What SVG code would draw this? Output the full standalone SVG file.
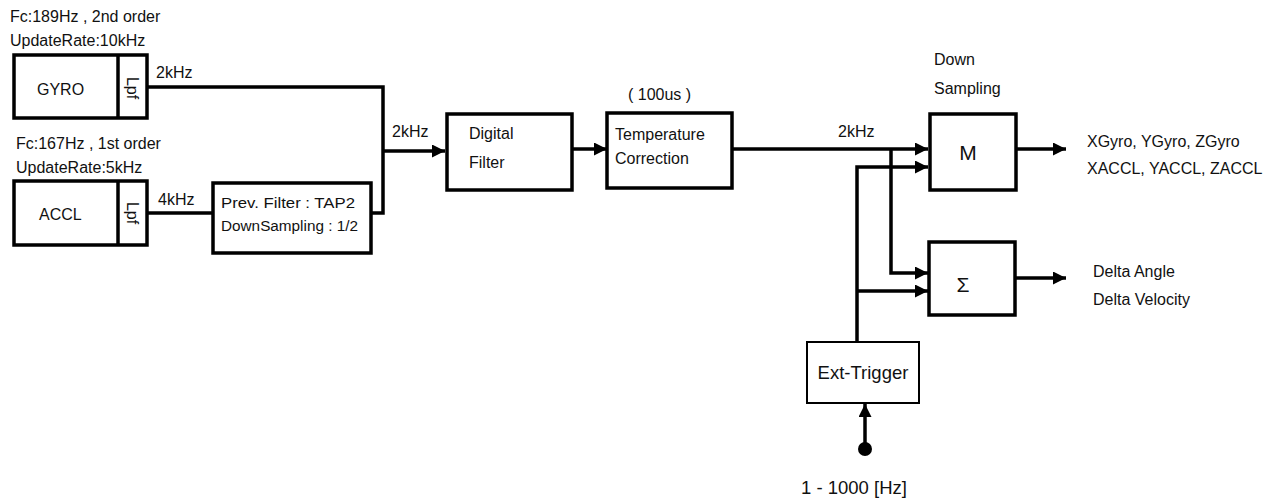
<svg xmlns="http://www.w3.org/2000/svg" width="1286" height="503" viewBox="0 0 1286 503">
  <style>
    .box { fill: #ffffff; stroke: #000000; stroke-width: 3.5; }
    .thin { fill: #ffffff; stroke: #000000; stroke-width: 2; }
    .wire { fill: none; stroke: #000000; stroke-width: 3.5; stroke-linejoin: miter; }
    .lbl { font-family: "Liberation Sans", Arial, sans-serif; font-size: 16px; fill: #111111; }
    .small { font-family: "Liberation Sans", Arial, sans-serif; font-size: 14px; fill: #111111; }
    .big { font-family: "Liberation Sans", Arial, sans-serif; font-size: 21px; fill: #111111; }
    .trig { font-family: "Liberation Sans", Arial, sans-serif; font-size: 18.5px; fill: #111111; }
  </style>
  <defs>
    <marker id="arrow" markerUnits="userSpaceOnUse" markerWidth="14" markerHeight="14" refX="13" refY="6.5" orient="auto">
      <path d="M0,0 L13,6.5 L0,13 Z" fill="#000000"/>
    </marker>
  </defs>

  <rect width="1286" height="503" fill="#ffffff"/>

  <!-- connectors -->
  <g id="connectors">
    <!-- gyro and accel paths merge into the 2 kHz stream -->
    <polyline class="wire" points="147,87 383,87 383,213 371,213"/>
    <line class="wire" x1="147" y1="213" x2="213" y2="213"/>
    <line class="wire" x1="383" y1="151" x2="445" y2="151" marker-end="url(#arrow)"/>
    <line class="wire" x1="572" y1="149" x2="607" y2="149" marker-end="url(#arrow)"/>
    <!-- corrected stream to down-sampler and integrator -->
    <line class="wire" x1="732" y1="149" x2="928" y2="149" marker-end="url(#arrow)"/>
    <polyline class="wire" points="891,149 891,273 928,273" marker-end="url(#arrow)"/>
    <!-- external trigger fan-out -->
    <polyline class="wire" points="857,343 857,167 928,167" marker-end="url(#arrow)"/>
    <line class="wire" x1="857" y1="291" x2="928" y2="291" marker-end="url(#arrow)"/>
    <!-- outputs -->
    <line class="wire" x1="1016" y1="149" x2="1066" y2="149" marker-end="url(#arrow)"/>
    <line class="wire" x1="1015" y1="278" x2="1066" y2="278" marker-end="url(#arrow)"/>
    <!-- trigger input -->
    <line class="wire" x1="865" y1="449" x2="865" y2="404" marker-end="url(#arrow)"/>
    <circle cx="865" cy="449" r="7" fill="#000000"/>
  </g>

  <!-- sensor: gyro with low-pass filter -->
  <g id="gyro">
    <rect class="box" x="14" y="55" width="133" height="63"/>
    <line class="wire" x1="118" y1="55" x2="118" y2="118"/>
    <text class="lbl" x="37" y="95">GYRO</text>
    <text class="lbl" transform="translate(127,88) rotate(90)" text-anchor="middle">Lpf</text>
  </g>

  <!-- sensor: accelerometer with low-pass filter -->
  <g id="accl">
    <rect class="box" x="14" y="181" width="133" height="64"/>
    <line class="wire" x1="118" y1="181" x2="118" y2="245"/>
    <text class="lbl" x="39" y="220">ACCL</text>
    <text class="lbl" transform="translate(127,213) rotate(90)" text-anchor="middle">Lpf</text>
  </g>

  <g id="prefilter">
    <rect class="box" x="213" y="183" width="158" height="70"/>
    <text class="small" x="221" y="208" textLength="134" lengthAdjust="spacingAndGlyphs">Prev. Filter : TAP2</text>
    <text class="small" x="221" y="231" textLength="137" lengthAdjust="spacingAndGlyphs">DownSampling : 1/2</text>
  </g>

  <g id="digital-filter">
    <rect class="box" x="447" y="114" width="125" height="76"/>
    <text class="lbl" x="469" y="139">Digital</text>
    <text class="lbl" x="469" y="168">Filter</text>
  </g>

  <g id="temp-correction">
    <rect class="box" x="607" y="113" width="125" height="75"/>
    <text class="lbl" x="615" y="140">Temperature</text>
    <text class="lbl" x="615" y="164">Correction</text>
  </g>

  <g id="downsample">
    <rect class="box" x="930" y="114" width="86" height="76"/>
    <text class="big" x="968" y="160" text-anchor="middle">M</text>
  </g>

  <g id="sum">
    <rect class="box" x="929" y="242" width="86" height="73"/>
    <text class="big" x="963" y="292" text-anchor="middle">Σ</text>
  </g>

  <g id="ext-trigger">
    <rect class="thin" x="807" y="342" width="112" height="61"/>
    <text class="trig" x="863" y="379" text-anchor="middle">Ext-Trigger</text>
  </g>

  <!-- annotations -->
  <g id="labels">
    <text class="lbl" x="10" y="22">Fc:189Hz , 2nd order</text>
    <text class="lbl" x="10" y="46">UpdateRate:10kHz</text>
    <text class="lbl" x="16" y="149">Fc:167Hz , 1st order</text>
    <text class="lbl" x="16" y="173">UpdateRate:5kHz</text>
    <text class="lbl" x="156" y="78">2kHz</text>
    <text class="lbl" x="158" y="205">4kHz</text>
    <text class="lbl" x="392" y="137">2kHz</text>
    <text class="lbl" x="628" y="100">( 100us )</text>
    <text class="lbl" x="838" y="137">2kHz</text>
    <text class="lbl" x="934" y="65">Down</text>
    <text class="lbl" x="934" y="94">Sampling</text>
    <text class="lbl" x="1087" y="147">XGyro, YGyro, ZGyro</text>
    <text class="lbl" x="1087" y="174">XACCL, YACCL, ZACCL</text>
    <text class="lbl" x="1093" y="277">Delta Angle</text>
    <text class="lbl" x="1093" y="305">Delta Velocity</text>
    <text class="trig" x="801" y="494">1 - 1000 [Hz]</text>
  </g>
</svg>
